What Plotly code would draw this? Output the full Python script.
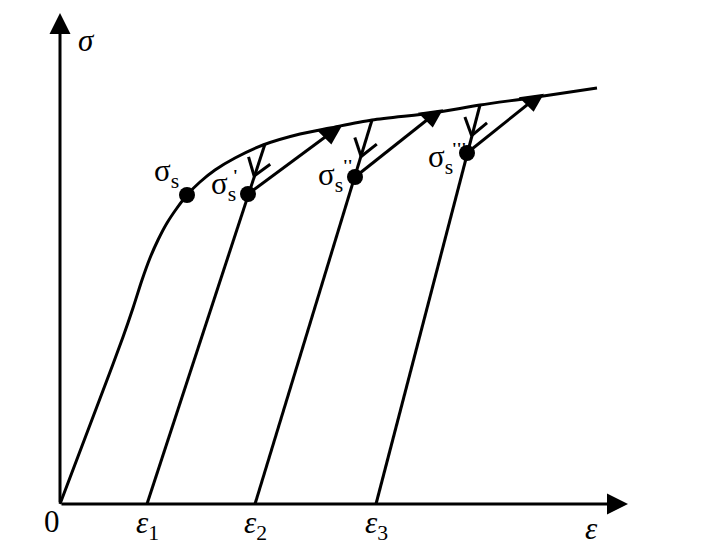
import numpy as np
import plotly.graph_objects as go

# ---- data (strain / stress in arbitrary schematic units) ----
curve_strain = [0, 0.47, 0.63, 0.73, 0.82, 0.90, 0.98, 1.07, 1.17, 1.27, 1.40, 1.55,
                1.75, 2.03, 2.40, 2.70, 3.12, 3.73, 4.20, 4.70, 5.37]
curve_stress = [0, 1.24, 1.67, 1.96, 2.24, 2.46, 2.64, 2.81, 2.96, 3.09, 3.22, 3.34,
                3.46, 3.59, 3.70, 3.76, 3.84, 3.91, 3.99, 4.06, 4.16]

yield_strain = 1.27
yield_stress = 3.09

residual_strain = [0.87, 1.95, 3.16]          # ε1, ε2, ε3
unload_top_strain = [2.05, 3.12, 4.20]        # where unloading starts on curve
unload_top_stress = [3.60, 3.84, 3.99]
reyield_strain = [1.88, 2.95, 4.07]           # σs', σs'', σs'''
reyield_stress = [3.10, 3.27, 3.51]
reload_end_strain = [2.76, 3.77, 4.77]        # reloading meets curve
reload_end_stress = [3.75, 3.92, 4.07]

residual_labels = ["1", "2", "3"]
prime_labels = ["'", "''", "'''"]
axis_x_end = 5.68
axis_y_end = 4.91

FONT = "Liberation Serif"
LW = 3

fig = go.Figure()

# main loading curve
fig.add_trace(go.Scatter(x=curve_strain, y=curve_stress, mode="lines",
                         line=dict(color="black", width=LW, shape="spline", smoothing=0.8),
                         hoverinfo="skip", showlegend=False))

# unloading lines (elastic) from curve down to residual strain
for e, xt, yt in zip(residual_strain, unload_top_strain, unload_top_stress):
    fig.add_trace(go.Scatter(x=[xt, e], y=[yt, 0], mode="lines",
                             line=dict(color="black", width=LW),
                             hoverinfo="skip", showlegend=False))

# reloading lines from new yield point to curve
for xs, ys, xe, ye in zip(reyield_strain, reyield_stress, reload_end_strain, reload_end_stress):
    fig.add_trace(go.Scatter(x=[xs, xe], y=[ys, ye], mode="lines",
                             line=dict(color="black", width=LW),
                             hoverinfo="skip", showlegend=False))

# filled arrowheads near the end of each reloading line
ax_, ay_ = [], []
for xs, ys, xe, ye in zip(reyield_strain, reyield_stress, reload_end_strain, reload_end_stress):
    f = 0.93
    ax_.append(xs + f * (xe - xs))
    ay_.append(ys + f * (ye - ys))
fig.add_trace(go.Scatter(x=ax_, y=ay_, mode="markers",
                         marker=dict(symbol="triangle-down", size=22, color="black", angle=-8,
                                     line=dict(width=0)),
                         hoverinfo="skip", showlegend=False))

# open chevron arrowheads on the unloading lines (computed from line geometry)
def chevron(x0, y0, x1, y1, frac=0.64, length=0.20, half=np.deg2rad(35)):
    p0 = np.array([x0, y0]); p1 = np.array([x1, y1])
    v = p0 + frac * (p1 - p0)
    u = (p0 - p1) / np.linalg.norm(p0 - p1)
    out_x, out_y = [], []
    for s in (1, -1):
        c, si = np.cos(s * half), np.sin(s * half)
        w = np.array([c * u[0] - si * u[1], si * u[0] + c * u[1]])
        tip = v + length * w
        out_x += [tip[0], v[0], None]
        out_y += [tip[1], v[1], None]
    return out_x, out_y

chx, chy = [], []
for xt, yt, xs, ys in zip(unload_top_strain, unload_top_stress, reyield_strain, reyield_stress):
    cx, cy = chevron(xt, yt, xs, ys)
    chx += cx; chy += cy
fig.add_trace(go.Scatter(x=chx, y=chy, mode="lines",
                         line=dict(color="black", width=LW),
                         hoverinfo="skip", showlegend=False))

# yield-point dots
fig.add_trace(go.Scatter(x=[yield_strain] + reyield_strain,
                         y=[yield_stress] + reyield_stress, mode="markers",
                         marker=dict(size=16, color="black"),
                         hoverinfo="skip", showlegend=False))

ann = []
# axes with arrows
ann.append(dict(x=0, y=axis_y_end, ax=0, ay=0, xref="x", yref="y", axref="x", ayref="y",
                text="", showarrow=True, arrowhead=2, arrowsize=1.4, arrowwidth=3,
                arrowcolor="black"))
ann.append(dict(x=axis_x_end, y=0, ax=0, ay=0, xref="x", yref="y", axref="x", ayref="y",
                text="", showarrow=True, arrowhead=2, arrowsize=1.4, arrowwidth=3,
                arrowcolor="black"))

tf = dict(family=FONT, size=31, color="black")
ann.append(dict(x=0, y=axis_y_end, text="<i>σ</i>", showarrow=False, xshift=26, yshift=-27,
                font=tf))
ann.append(dict(x=axis_x_end, y=0, text="<i>ε</i>", showarrow=False, xshift=-37, yshift=-24,
                font=tf))
ann.append(dict(x=0, y=0, text="0", showarrow=False, xshift=-8, yshift=-17, font=tf))
for e, lab in zip(residual_strain, residual_labels):
    ann.append(dict(x=e, y=0, text="<i>ε</i><sub>" + lab + "</sub>", showarrow=False,
                    xshift=0, yshift=-21, font=tf))

# yield labels
ann.append(dict(x=yield_strain, y=yield_stress, text="σ<sub>s</sub>", showarrow=False,
                xshift=-21, yshift=22, font=tf))
lab_shift = [(-25, 8), (-25, 0), (-27, -6)]
prime_shift = [(-13, 19), (-8, 12), (-8, 5)]
for xs, ys, p, (dx, dy), (px, py) in zip(reyield_strain, reyield_stress, prime_labels,
                                         lab_shift, prime_shift):
    ann.append(dict(x=xs, y=ys, text="σ<sub>s</sub>", showarrow=False,
                    xshift=dx, yshift=dy, font=tf))
    ann.append(dict(x=xs, y=ys, text="<b>" + p + "</b>", showarrow=False, xshift=px, yshift=py,
                    font=dict(family=FONT, size=17, color="black")))

fig.update_layout(
    width=708, height=552,
    margin=dict(l=0, r=0, t=0, b=0),
    paper_bgcolor="white", plot_bgcolor="white",
    xaxis=dict(range=[-0.60, 6.48], visible=False, fixedrange=True),
    yaxis=dict(range=[-0.48, 5.04], visible=False, fixedrange=True),
    annotations=ann,
    showlegend=False,
)

fig.write_html("out.html", config={"displayModeBar": False},
               post_script="document.body.style.margin='0';document.body.style.overflow='hidden';")
